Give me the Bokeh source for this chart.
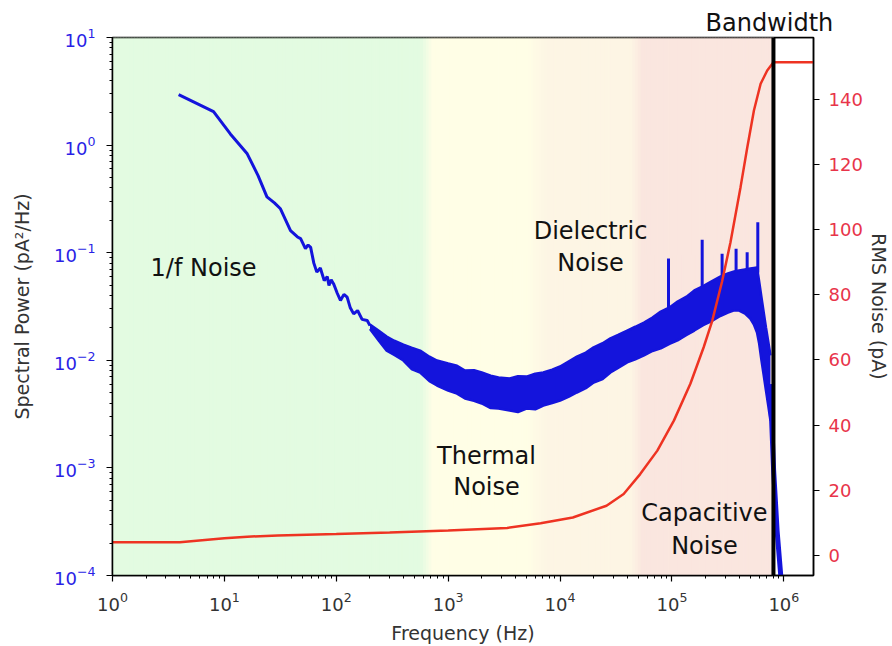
import numpy as np
from bokeh.plotting import figure
from bokeh.models import Range1d, LinearAxis, FixedTicker, Label, Span, LinearScale, Title
from bokeh.embed import file_html
from bokeh.resources import INLINE

# ---------------- data ----------------
# low-frequency part of the spectral power (single line)
psd_line_freq = [3.9, 8.0, 11.3, 16, 20, 24, 28, 31.7, 39, 45, 48, 53, 56, 59, 63, 67, 72, 78,
                 83, 86, 90, 95, 102, 109, 117, 125, 133, 143, 155, 170, 189, 200]
psd_line_val = [2.95, 2.05, 1.27, 0.83, 0.52, 0.33, 0.29, 0.256, 0.16, 0.14, 0.135, 0.109, 0.118,
                0.112, 0.08, 0.066, 0.072, 0.055, 0.06, 0.0496, 0.056, 0.051, 0.042, 0.036, 0.041,
                0.0386, 0.031, 0.027, 0.029, 0.024, 0.0234, 0.021]

# noisy band of the spectral power: lower / upper envelope
band_freq = [200, 240, 282, 330, 398, 470, 562, 680, 794, 1000, 1200, 1413, 1700, 1995, 2400,
             2818, 3548, 4200, 5012, 6000, 7079, 8500, 10000, 12000, 14125, 17000, 19953, 24000,
             28184, 33000, 39811, 47000, 56234, 67000, 79433, 95000, 112202, 135000, 158489,
             190000, 223872, 270000, 316228, 360000, 398107, 450000, 501187, 540000, 575440,
             600000, 630957, 660000, 691831, 725000, 758578]
band_low = [0.0195, 0.0152, 0.0123, 0.0112, 0.00995, 0.0083, 0.0077, 0.0064, 0.00583, 0.00524,
            0.0049, 0.00442, 0.0042, 0.00397, 0.0036, 0.00356, 0.00341, 0.0033, 0.00356, 0.0035,
            0.0038, 0.0040, 0.00423, 0.0046, 0.00502, 0.0055, 0.00622, 0.0067, 0.0077, 0.0085,
            0.00955, 0.0102, 0.0111, 0.0122, 0.0129, 0.0142, 0.0153, 0.0172, 0.0189, 0.0212,
            0.023, 0.0258, 0.0278, 0.0292, 0.029, 0.0272, 0.0244, 0.0215, 0.0181, 0.0145,
            0.00995, 0.0073, 0.00524, 0.0038, 0.00275]
band_high = [0.0215, 0.0188, 0.0166, 0.0152, 0.014, 0.0131, 0.0123, 0.0108, 0.00995, 0.00933,
             0.0089, 0.00804, 0.0081, 0.0077, 0.0072, 0.00692, 0.00678, 0.0071, 0.00706, 0.0075,
             0.0077, 0.0082, 0.00875, 0.0098, 0.0108, 0.0118, 0.0132, 0.0144, 0.016, 0.0172,
             0.0189, 0.0205, 0.0224, 0.025, 0.0284, 0.031, 0.0352, 0.039, 0.0446, 0.049, 0.054,
             0.060, 0.0641, 0.0668, 0.0684, 0.070, 0.0713, 0.0722, 0.0728, 0.055, 0.0384, 0.028,
             0.0202, 0.015, 0.0111]

# roll-off beyond the bandwidth
drop_freq = [745000, 775000, 810000, 870000, 950000]
drop_val = [0.006, 0.003, 0.00095, 0.00026, 0.000085]

# line-interference spikes
spike_freq = [93100, 186200, 280500, 374100, 469900, 584800]
spike_top = [0.0883, 0.132, 0.0977, 0.1086, 0.101, 0.192]

# cumulative RMS noise (right axis, pA)
rms_freq = [1, 4, 10, 16, 30, 100, 300, 1000, 3365, 6700, 13000, 26000, 37000, 52000, 74000,
            104000, 146000, 192000, 229000, 280000, 333000, 410000, 470000, 540000, 620000,
            710000, 807000, 1840000]
rms_val = [4.1, 4.1, 5.3, 5.8, 6.2, 6.6, 7.1, 7.7, 8.5, 9.9, 11.7, 15.3, 18.9, 25.0, 32.2,
           41.4, 52.7, 63.9, 72.0, 84.0, 96.0, 113.0, 125.0, 136.5, 144.7, 148.8, 151.3, 151.3]
rms_ticks = [0, 20, 40, 60, 80, 100, 120, 140]

# noise regions
region_names = ["1/f Noise", "Thermal Noise", "Dielectric Noise", "Capacitive Noise"]
region_edges = [1, 650, 6300, 49000, 807000]
bandwidth_freq = 807000

# ---------------- figure ----------------
X_MAX = 1.84e6
Y_MIN, Y_MAX = 1e-4, 10
FONT = "DejaVu Sans"
p = figure(width=892, height=646, x_axis_type="log", y_axis_type="log",
           x_range=Range1d(1, X_MAX), y_range=Range1d(Y_MIN, Y_MAX),
           output_backend="svg", toolbar_location=None,
           min_border_left=112, min_border_right=79, min_border_top=37, min_border_bottom=71)
p.title = Title(text="Bandwidth", align="left", offset=593, text_font=FONT,
                text_font_size="24px", text_font_style="normal", text_color="#111111",
                standoff=2, vertical_align="bottom")
p.extra_y_ranges = {"rms": Range1d(-6.1, 158.9)}
p.extra_y_scales = {"rms": LinearScale()}
p.xgrid.visible = False
p.ygrid.visible = False
p.outline_line_color = "black"
p.outline_line_width = 1.5
p.background_fill_color = "white"
p.border_fill_color = "white"

# background bands with soft transitions (colour gradient)
green = (227, 251, 225)
yellow = (255, 254, 230)
peach = (253, 245, 228)
pink = (250, 230, 223)
le = np.log10(region_edges)
stops = [le[0], le[1] - 0.05, le[1] + 0.05, le[2] - 0.1, le[2] + 0.1, le[3] - 0.05, le[3] + 0.05, le[4]]
cols = [green, green, yellow, yellow, peach, peach, pink, pink]
nstrip = 240
edges = np.linspace(le[0], le[4], nstrip + 1)
mids = 0.5 * (edges[:-1] + edges[1:])
carr = np.array(cols, dtype=float)
strip_colors = []
for m in mids:
    rgb = [np.interp(m, stops, carr[:, k]) for k in range(3)]
    strip_colors.append("#%02x%02x%02x" % tuple(int(round(v)) for v in rgb))
p.quad(left=10 ** edges[:-1], right=10 ** edges[1:], bottom=Y_MIN, top=Y_MAX,
       fill_color=strip_colors, line_color=strip_colors, line_width=1.2)

BLUE = "#1414dc"
RED = "#ee3322"

# spectral power: line part
p.line(psd_line_freq, psd_line_val, line_color=BLUE, line_width=3)
# noisy band
p.varea(x=band_freq, y1=band_low, y2=band_high, fill_color=BLUE)
p.line(band_freq, band_low, line_color=BLUE, line_width=2.5)
p.line(band_freq, band_high, line_color=BLUE, line_width=2.5)
# roll-off
p.line(drop_freq, drop_val, line_color=BLUE, line_width=5)
# spikes rising from the upper envelope
lbf = np.log10(band_freq)
lbh = np.log10(band_high)
spike_base = [10 ** np.interp(np.log10(f), lbf, lbh) for f in spike_freq]
p.segment(x0=spike_freq, y0=spike_base, x1=spike_freq, y1=spike_top, line_color=BLUE, line_width=3)

# RMS noise on the right axis
p.line(rms_freq, rms_val, line_color=RED, line_width=2.5, y_range_name="rms")

# bandwidth line and top frame edge
p.add_layout(Span(location=bandwidth_freq, dimension="height", line_color="black", line_width=4))
p.add_layout(Span(location=Y_MAX, dimension="width", line_color="black", line_width=1.5))

# ---------------- axes ----------------
TICK_BLUE = "#2a1fe6"
TICK_RED = "#e8344a"

xa = p.xaxis[0]
ya = p.yaxis[0]
ra = LinearAxis(y_range_name="rms", ticker=FixedTicker(ticks=rms_ticks))
p.add_layout(ra, "right")

for ax in (xa, ya, ra):
    ax.axis_line_color = "black"
    ax.axis_line_width = 1.5
    ax.major_tick_line_color = "black"
    ax.minor_tick_line_color = "black"
    ax.major_tick_line_width = 1.2
    ax.minor_tick_line_width = 1
    ax.major_tick_in = 0
    ax.major_tick_out = 6
    ax.minor_tick_in = 0
    ax.minor_tick_out = 3
    ax.major_label_text_font = FONT
    ax.major_label_text_font_size = "18px"
    ax.axis_label_text_font = FONT
    ax.axis_label_text_font_size = "19px"
    ax.axis_label_text_font_style = "normal"
    ax.axis_label_text_color = "#333333"

xa.axis_label = "Frequency (Hz)"
xa.major_label_text_color = "#333333"
xa.major_label_standoff = 10
xa.axis_label_standoff = 8

ya.axis_label = "Spectral Power (pA\u00b2/Hz)"
ya.major_label_text_color = TICK_BLUE
ya.major_label_standoff = 11
ya.axis_label_standoff = 18

ra.axis_label = "RMS Noise (pA)"
ra.major_label_text_color = TICK_RED
ra.major_label_standoff = 9
ra.axis_label_standoff = 2
ra.minor_tick_out = 0

# ---------------- annotations ----------------
def note(text, x, y, align="center"):
    p.add_layout(Label(x=x, y=y, text=text, text_font=FONT, text_font_size="24px",
                       text_color="#111111", text_align=align, text_baseline="middle"))

note("1/f Noise", 2.19, 0.0728, align="left")
note("Dielectric", 18700, 0.16)
note("Noise", 18700, 0.081)
note("Thermal", 2200, 1.28e-3)
note("Noise", 2200, 6.6e-4)
note("Capacitive", 195000, 3.77e-4)
note("Noise", 195000, 1.9e-4)

open("out.html", "w").write(file_html(p, INLINE))
